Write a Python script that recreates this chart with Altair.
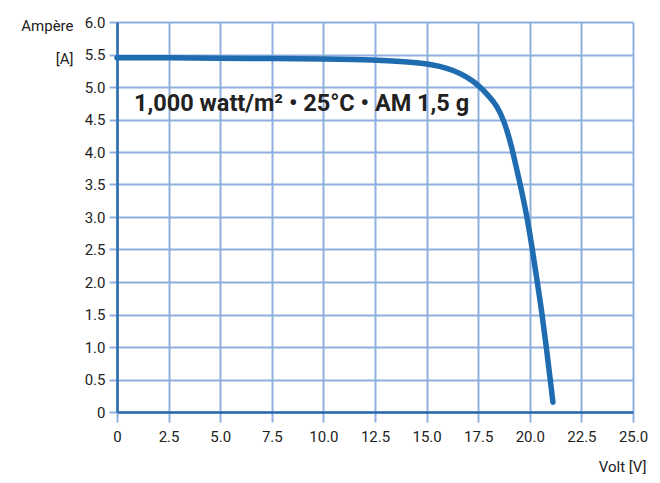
import altair as alt
import pandas as pd

volt = [0, 2.5, 5, 7.5, 10, 12.5, 14, 15, 15.63, 16.28, 16.93, 17.52, 18.05, 18.41, 18.75,
        19.0, 19.18, 19.54, 19.87, 20.1, 20.34, 20.59, 20.8, 20.99, 21.12]
ampere = [5.45, 5.45, 5.44, 5.44, 5.43, 5.42, 5.39, 5.36, 5.32, 5.26, 5.16, 5.03, 4.85, 4.71, 4.48,
          4.22, 4.0, 3.5, 3.0, 2.55, 2.05, 1.52, 1.0, 0.5, 0.15]
x_ticks = [0, 2.5, 5, 7.5, 10, 12.5, 15, 17.5, 20, 22.5, 25]
y_ticks = [0, 0.5, 1, 1.5, 2, 2.5, 3, 3.5, 4, 4.5, 5, 5.5, 6]
note = "1,000 watt/m² • 25°C • AM 1,5 g"

df = pd.DataFrame({"V": volt, "A": ampere})

FONT = "Roboto"
GRID = "#8fb0df"
FRAME = "#2a6aad"
CURVE = "#1f6cb0"
FS = 15
lab = "datum.value == 0 ? '0' : format(datum.value, '.1f')"

x = alt.X("V:Q", scale=alt.Scale(domain=[0, 25], nice=False),
          axis=alt.Axis(values=x_ticks, labelExpr=lab, title="Volt [V]",
                        labelFlush=False, labelOverlap=False,
                        tickSize=10, labelPadding=7, tickColor=GRID, tickWidth=2,
                        gridColor=GRID, gridWidth=2, domainColor=FRAME, domainWidth=2.5,
                        titleX=529, titleY=54, titleAlign="right", titleBaseline="middle",
                        titleFontWeight="normal", titleFontSize=FS, titleColor="#222",
                        labelFontSize=FS, labelColor="#222", labelFont=FONT, titleFont=FONT))
y = alt.Y("A:Q", scale=alt.Scale(domain=[0, 6], nice=False),
          axis=alt.Axis(values=y_ticks, labelExpr=lab, title=["Ampère", "[A]"],
                        labelFlush=False, labelOverlap=False,
                        tickSize=8, labelPadding=4, tickColor=GRID, tickWidth=2,
                        gridColor=GRID, gridWidth=2, domainColor=FRAME, domainWidth=2.5,
                        titleAngle=0, titleX=-44, titleY=-4, titleAlign="right",
                        titleBaseline="top", titleLineHeight=33,
                        titleFontWeight="normal", titleFontSize=FS, titleColor="#222",
                        labelFontSize=FS, labelColor="#222", labelFont=FONT, titleFont=FONT))

curve = alt.Chart(df).mark_line(color=CURVE, strokeWidth=5.5, interpolate="basis",
                                strokeCap="round").encode(x=x, y=y)

text = alt.Chart(pd.DataFrame({"t": [note]})).mark_text(
    font=FONT, fontSize=23.5, fontWeight="bold", color="#222", align="left", baseline="middle"
).encode(x=alt.value(17), y=alt.value(82), text="t:N")

chart = (curve + text).properties(
    width=516, height=390,
    padding={"left": 109, "top": 14, "right": 19, "bottom": 62},
    autosize=alt.AutoSizeParams(type="none"),
).configure_view(stroke=FRAME, strokeWidth=2.5).configure(background="white")

chart.save("out.html", embed_options={"renderer": "svg", "actions": False})
